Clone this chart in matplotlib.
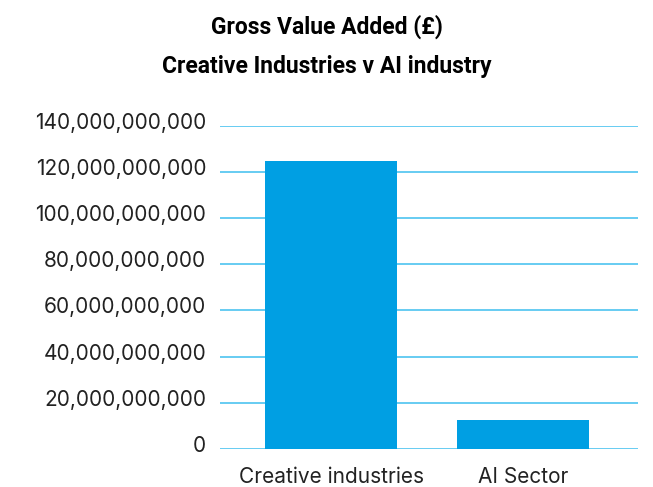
import matplotlib.pyplot as plt
import matplotlib.transforms as mtransforms
from matplotlib.ticker import FuncFormatter

categories = ['Creative industries', 'AI Sector']
gva = [125e9, 12.5e9]
yticks = [0, 20e9, 40e9, 60e9, 80e9, 100e9, 120e9, 140e9]

fig = plt.figure(figsize=(6.53, 4.87), dpi=100)
ax = fig.add_axes([0.337, 0.0786, 0.64, 0.6624])

ax.bar(range(len(categories)), gva, width=0.6875, color='#009fe3', zorder=2)
ax.set_xlim(-0.578, 1.599)
ax.set_ylim(0, 140e9)
ax.set_yticks(yticks)
ax.yaxis.set_major_formatter(FuncFormatter(lambda v, p: f'{v:,.0f}'))
ax.set_xticks(range(len(categories)))
ax.set_xticklabels(categories)
ax.grid(axis='y', color='#4dc3f0', linewidth=1.2, zorder=1)
ax.tick_params(axis='y', length=0, labelsize=15, labelcolor='#222222', pad=10)
ax.tick_params(axis='x', length=0, labelsize=15, labelcolor='#222222', pad=13)
for label in ax.get_xticklabels() + ax.get_yticklabels():
    label.set_family('Inter')

# nudge y labels up a little, like the original
shift = mtransforms.ScaledTranslation(0, 5 / 100, fig.dpi_scale_trans)
for label in ax.get_yticklabels():
    label.set_transform(label.get_transform() + shift)

for s in ax.spines.values():
    s.set_visible(False)

fig.text(0.5, 1 - 27 / 487, 'Gross Value Added (£)', ha='center', va='center',
         fontsize=16.5, fontweight='bold', family='Roboto')
fig.text(0.5, 1 - 66 / 487, 'Creative Industries v AI industry', ha='center', va='center',
         fontsize=16.5, fontweight='bold', family='Roboto')

fig.savefig('out.png', dpi=100)
